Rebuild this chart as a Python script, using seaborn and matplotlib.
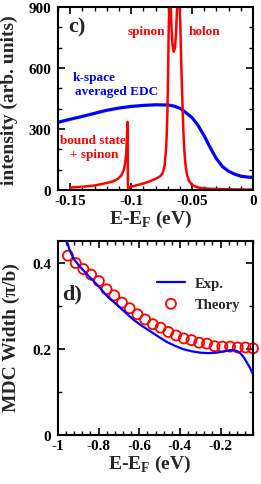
import numpy as np
import pandas as pd
import matplotlib
matplotlib.use("Agg")
import matplotlib.pyplot as plt
import seaborn as sns
from matplotlib.ticker import MultipleLocator, AutoMinorLocator

# panel c) : k-space averaged EDC (blue) and theory spectrum (red)
edc_x = [-0.160, -0.150, -0.140, -0.130, -0.120, -0.110, -0.100, -0.090, -0.080,
         -0.070, -0.065, -0.060, -0.055, -0.050, -0.045, -0.040, -0.035, -0.030,
         -0.025, -0.020, -0.015, -0.010, -0.005, -0.001]
edc_y = [333, 348, 362, 377, 392, 403, 411, 416, 419, 418, 413, 402, 380, 356,
         317, 266, 207, 154, 115, 92, 78, 68, 64, 62]

spec_x = [-0.150, -0.140, -0.130, -0.122, -0.115, -0.111, -0.108, -0.106, -0.105,
          -0.1040, -0.1035, -0.1030, -0.1028, -0.1026, -0.1020, -0.1015, -0.095,
          -0.090, -0.085, -0.080, -0.076, -0.074, -0.0725, -0.0715, -0.0708,
          -0.0702, -0.0697, -0.0692, -0.0686, -0.0680, -0.0674, -0.0668, -0.0660,
          -0.0650, -0.0640, -0.0632, -0.0624, -0.0616, -0.0608, -0.0601, -0.0595,
          -0.0588, -0.0580, -0.0572, -0.0565, -0.0558, -0.0550, -0.0540, -0.0525,
          -0.0505, -0.0485, -0.0460, -0.0420, -0.0350, -0.0250, -0.0150, -0.0050,
          0.0]
spec_y = [12, 16, 22, 32, 42, 54, 72, 100, 130, 180, 245, 335, 200, 8, 10, 13,
          24, 32, 42, 55, 68, 85, 120, 190, 270, 390, 560, 780, 930, 960, 880,
          790, 710, 680, 700, 770, 880, 960, 970, 900, 780, 600, 450, 300, 210,
          150, 105, 72, 45, 28, 20, 14, 9, 6, 4, 3, 2, 2]

# panel d) : MDC width
exp_x = [-0.960, -0.945, -0.925, -0.900, -0.875, -0.850, -0.825, -0.800, -0.775,
         -0.750, -0.712, -0.670, -0.630, -0.590, -0.547, -0.505, -0.465, -0.425,
         -0.383, -0.340, -0.300, -0.260, -0.218, -0.180, -0.150, -0.136, -0.120,
         -0.103, -0.085, -0.070, -0.055, -0.040]
exp_y = [0.455, 0.432, 0.410, 0.395, 0.382, 0.369, 0.357, 0.345, 0.331, 0.318,
         0.303, 0.285, 0.268, 0.254, 0.241, 0.228, 0.216, 0.207, 0.199, 0.194,
         0.191, 0.190, 0.191, 0.194, 0.197, 0.197, 0.195, 0.190, 0.180, 0.168,
         0.156, 0.141]

theory_x = [-0.951, -0.913, -0.875, -0.837, -0.799, -0.761, -0.723, -0.685,
            -0.647, -0.609, -0.571, -0.533, -0.495, -0.457, -0.419, -0.381,
            -0.343, -0.305, -0.267, -0.229, -0.191, -0.153, -0.115, -0.077, -0.040]
theory_y = [0.416, 0.399, 0.385, 0.372, 0.357, 0.338, 0.324, 0.307, 0.294, 0.280,
            0.268, 0.257, 0.249, 0.239, 0.231, 0.224, 0.220, 0.214, 0.212, 0.206,
            0.205, 0.205, 0.203, 0.203, 0.201]

sns.set_theme(style="ticks")
plt.rcParams['font.family'] = ['Liberation Serif', 'DejaVu Serif']
plt.rcParams['font.weight'] = 'bold'
plt.rcParams['axes.labelweight'] = 'bold'
plt.rcParams['mathtext.fontset'] = 'custom'
plt.rcParams['mathtext.rm'] = 'Liberation Serif:bold'
plt.rcParams['mathtext.bf'] = 'Liberation Serif:bold'

fig = plt.figure(figsize=(2.61, 4.85), dpi=100)
ax1 = fig.add_axes([58 / 261, 294 / 485, 195 / 261, 183 / 485])
ax2 = fig.add_axes([58 / 261, 49 / 485, 195 / 261, 194 / 485])

sns.lineplot(x=edc_x, y=edc_y, ax=ax1, color='#0000ff', lw=2.3, sort=False)
sns.lineplot(x=spec_x, y=spec_y, ax=ax1, color='#ff0000', lw=1.8, sort=False)
ax1.set_xlim(-0.16, 0)
ax1.set_ylim(0, 900)
ax1.xaxis.set_minor_locator(MultipleLocator(0.01))
ax1.yaxis.set_major_locator(MultipleLocator(300))
ax1.yaxis.set_minor_locator(MultipleLocator(100))
ax1.set_xticks([-0.15, -0.1, -0.05, 0])
ax1.set_xticklabels(['-0.15', '-0.1', '-0.05', '0'])
ax1.set_xlabel('E-E$_\\mathbf{F}$ (eV)', fontsize=14)
ax1.set_ylabel('intensity (arb. units)', fontsize=14)
ax1.xaxis.set_label_coords(0.477, -0.095)
ax1.yaxis.set_label_coords(-0.205, 0.497)

t = ax1.transAxes
ax1.text(0.051, 0.891, 'c)', transform=t, fontsize=16, ha='left', va='center')
ax1.text(0.549, 0.869, 'spinon', transform=t, fontsize=9.5, color='#ff0000', ha='right', va='center')
ax1.text(0.672, 0.869, 'holon', transform=t, fontsize=9.5, color='#ff0000', ha='left', va='center')
ax1.text(0.077, 0.617, 'k-space', transform=t, fontsize=9.5, color='#0000ff', ha='left', va='center')
ax1.text(0.087, 0.541, 'averaged EDC', transform=t, fontsize=9.5, color='#0000ff', ha='left', va='center')
ax1.text(0.18, 0.273, 'bound state', transform=t, fontsize=9.5, color='#ff0000', ha='center', va='center')
ax1.text(0.185, 0.197, '+ spinon', transform=t, fontsize=9.5, color='#ff0000', ha='center', va='center')

sns.scatterplot(x=theory_x, y=theory_y, ax=ax2, marker='o', s=52, facecolors='none',
                edgecolor='#ff0000', linewidth=1.3, label='Theory', clip_on=False, zorder=2)
sns.lineplot(x=exp_x, y=exp_y, ax=ax2, color='#0000ff', lw=1.6, label='Exp.', sort=False, zorder=3)
ax2.set_xlim(-1, -0.04)
ax2.set_ylim(0, 0.45)
ax2.xaxis.set_major_locator(MultipleLocator(0.2))
ax2.xaxis.set_minor_locator(AutoMinorLocator(5))
ax2.yaxis.set_minor_locator(MultipleLocator(0.1))
ax2.set_xticks([-1, -0.8, -0.6, -0.4, -0.2])
ax2.set_xticklabels(['-1', '-0.8', '-0.6', '-0.4', '-0.2'])
ax2.set_yticks([0, 0.2, 0.4])
ax2.set_yticklabels(['0', '0.2', '0.4'])
ax2.set_xlabel('E-E$_\\mathbf{F}$ (eV)', fontsize=14)
ax2.set_ylabel('MDC Width (\u03c0/b)', fontsize=14)
ax2.xaxis.set_label_coords(0.472, -0.092)
ax2.yaxis.set_label_coords(-0.195, 0.505)
ax2.text(0.02, 0.732, 'd)', transform=ax2.transAxes, fontsize=16, ha='left', va='center')

h, l = ax2.get_legend_handles_labels()
order = [l.index('Exp.'), l.index('Theory')]
ax2.legend([h[i] for i in order], [l[i] for i in order], loc='upper left',
           bbox_to_anchor=(0.508, 0.815), frameon=False, borderpad=0, borderaxespad=0,
           handlelength=1.9, handletextpad=0.7, labelspacing=0.5, fontsize=10.5)

for ax in (ax1, ax2):
    for sp in ax.spines.values():
        sp.set_linewidth(1.5)
        sp.set_color('black')
    ax.tick_params(which='both', direction='in', top=True, right=True, colors='black',
                   labelsize=11)
    ax.tick_params(which='major', length=5, width=1.2, pad=3)
    ax.tick_params(which='minor', length=3, width=1.0)
    ax.tick_params(axis='y', which='major', pad=5)
    ax.set_facecolor('white')

fig.savefig('out.png', dpi=100, facecolor='white')
